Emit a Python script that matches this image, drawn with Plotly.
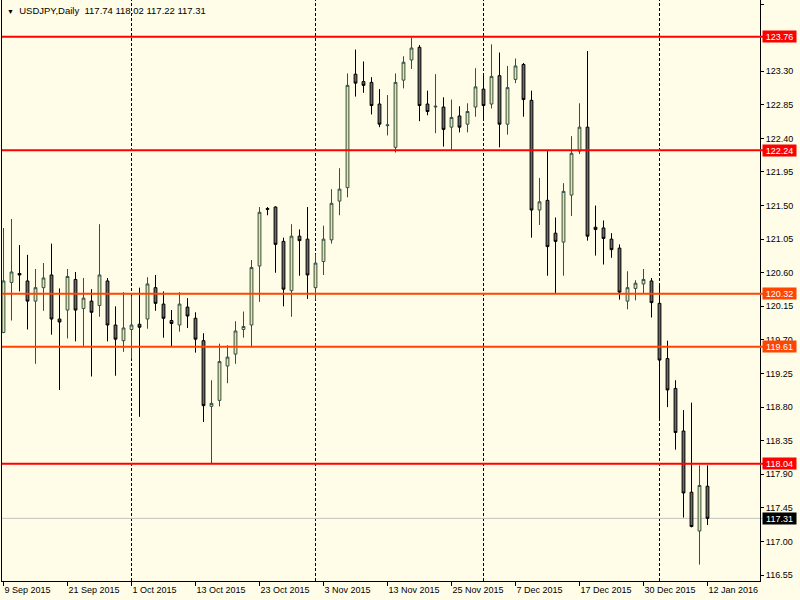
import plotly.graph_objects as go

# ---------------- data ----------------
symbol_title = "USDJPY,Daily"
last_ohlc = ["117.74", "118.02", "117.22", "117.31"]

bar_index = list(range(89))

opens = [119.80, 120.47, 120.59, 120.49, 120.22, 120.40, 120.57, 119.98, 120.10, 120.51,
         120.12, 120.22, 120.16, 120.49, 119.90, 119.69, 119.84, 119.91, 119.98, 120.40,
         120.18, 119.96, 119.90, 120.14, 119.99, 119.69, 118.81, 118.89, 119.35, 119.51,
         119.84, 119.90, 120.69, 121.46, 121.48, 121.02, 120.36, 121.09, 121.05, 120.40,
         120.75, 121.04, 121.56, 121.74, 123.26, 123.16, 123.15, 122.86, 122.57, 122.28,
         123.18, 123.45, 123.62, 122.86, 122.82, 122.82, 122.55, 122.70, 122.59, 122.82,
         123.06, 122.86, 123.24, 122.59, 123.19, 123.39, 122.91, 121.44, 121.57, 121.13,
         121.01, 121.64, 122.23, 122.55, 121.21, 121.20, 121.05, 120.93, 120.22, 120.39,
         120.45, 120.49, 120.19, 119.45, 119.05, 118.48, 117.66, 117.14, 117.74]

highs = [121.20, 121.32, 120.97, 120.84, 120.65, 120.73, 120.99, 120.39, 120.65, 120.61,
         120.53, 120.38, 121.25, 120.53, 120.15, 120.34, 120.29, 120.40, 120.54, 120.57,
         120.35, 120.10, 120.34, 120.26, 120.07, 119.79, 119.16, 119.65, 119.63, 119.95,
         120.08, 120.77, 121.48, 121.48, 121.49, 121.07, 121.25, 121.18, 121.48, 120.85,
         121.23, 121.72, 122.00, 123.27, 123.59, 123.43, 123.22, 123.06, 122.98, 123.27,
         123.50, 123.75, 123.65, 123.04, 123.26, 122.95, 122.92, 122.83, 122.87, 123.34,
         123.25, 123.66, 123.55, 123.37, 123.47, 123.41, 123.04, 121.87, 122.23, 121.34,
         121.80, 122.43, 122.87, 123.57, 121.50, 121.30, 121.13, 120.98, 120.62, 120.50,
         120.65, 120.53, 120.46, 119.69, 119.16, 118.76, 118.86, 118.02, 118.02]

lows = [119.79, 119.96, 120.35, 119.84, 119.38, 120.09, 119.77, 119.03, 119.72, 119.68,
        119.61, 119.21, 120.01, 119.68, 119.22, 119.54, 119.45, 118.67, 119.85, 120.09,
        119.73, 119.61, 119.81, 119.86, 119.53, 118.60, 118.05, 118.81, 119.12, 119.38,
        119.73, 119.60, 120.21, 121.37, 120.60, 120.15, 120.01, 120.56, 120.25, 120.24,
        120.57, 120.99, 121.37, 121.61, 122.96, 123.01, 122.72, 122.55, 122.44, 122.21,
        123.07, 123.33, 122.63, 122.71, 122.47, 122.29, 122.24, 122.48, 122.48, 122.69,
        122.64, 122.80, 122.28, 122.45, 123.14, 122.69, 121.07, 121.24, 120.56, 120.32,
        120.56, 121.36, 122.19, 121.03, 120.83, 120.71, 120.80, 120.24, 120.11, 120.23,
        120.32, 120.00, 118.65, 118.80, 118.23, 117.32, 117.19, 116.69, 117.22]

closes = [120.49, 120.61, 120.57, 120.22, 120.40, 120.53, 119.98, 119.94, 120.55, 120.10,
          120.26, 120.07, 120.57, 119.90, 119.71, 119.86, 119.90, 119.87, 120.45, 120.19,
          119.99, 119.92, 120.18, 120.02, 119.71, 118.82, 118.85, 119.41, 119.47, 119.82,
          119.88, 120.67, 121.41, 121.45, 120.98, 120.38, 121.09, 121.03, 120.57, 120.73,
          121.05, 121.53, 121.72, 123.11, 123.14, 123.11, 122.84, 122.59, 122.58, 123.15,
          123.42, 123.61, 122.84, 122.76, 122.83, 122.52, 122.68, 122.55, 122.76, 123.09,
          122.84, 123.23, 122.59, 123.08, 123.37, 122.92, 121.44, 121.55, 120.95, 121.02,
          121.69, 122.20, 122.55, 121.09, 121.18, 121.06, 120.91, 120.34, 120.40, 120.46,
          120.51, 120.20, 119.43, 119.03, 118.46, 117.65, 117.20, 117.75, 117.31]

date_tick_index = [0, 8, 16, 24, 32, 40, 48, 56, 64, 72, 80, 88]
date_tick_text = ["9 Sep 2015", "21 Sep 2015", "1 Oct 2015", "13 Oct 2015", "23 Oct 2015",
                  "3 Nov 2015", "13 Nov 2015", "25 Nov 2015", "7 Dec 2015", "17 Dec 2015",
                  "30 Dec 2015", "12 Jan 2016"]
month_start_index = [16, 39, 60, 82]

# 123.75 is hidden behind the 123.76 level label in the reference
price_ticks = [116.55, 117.00, 117.45, 117.90, 118.35, 118.80, 119.25, 119.70, 120.15,
               120.60, 121.05, 121.50, 121.95, 122.40, 122.85, 123.30, 124.20]

levels = [123.76, 122.24, 120.32, 119.61, 118.04]
level_colors = ["#FF0000", "#FF0000", "#FF4500", "#FF4500", "#FF0000"]
last_price = 117.31

# ---------------- style ----------------
BG = "#FFFDE8"
FONT = "Liberation Sans, Arial, sans-serif"

fig = go.Figure()
fig.add_trace(go.Candlestick(
    x=bar_index, open=opens, high=highs, low=lows, close=closes,
    increasing=dict(line=dict(color="#2F4F4F", width=1), fillcolor="#F0E68C"),
    decreasing=dict(line=dict(color="#000000", width=1), fillcolor="#696969"),
    whiskerwidth=0, hoverinfo="skip", showlegend=False,
))

shapes = []
for i in month_start_index:
    shapes.append(dict(type="line", xref="x", yref="paper", x0=i, x1=i, y0=0, y1=1,
                       line=dict(color="black", width=1, dash="3px,2px"), layer="below"))
shapes.append(dict(type="line", xref="paper", yref="y", x0=0, x1=1.006,
                   y0=last_price, y1=last_price,
                   line=dict(color="#C0C0C0", width=1), layer="below"))
for lv, col in zip(levels, level_colors):
    shapes.append(dict(type="line", xref="paper", yref="y", x0=0, x1=1.006, y0=lv, y1=lv,
                       line=dict(color=col, width=2), layer="above"))

annotations = []
for lv, col in zip(levels, level_colors):
    annotations.append(dict(xref="paper", yref="y", x=1, y=lv, xanchor="left", yanchor="middle",
                            xshift=2, text=f"{lv:.2f}", showarrow=False, bgcolor=col,
                            font=dict(color="white", size=9, family=FONT),
                            width=33, height=11, borderpad=0))
annotations.append(dict(xref="paper", yref="y", x=1, y=last_price, xanchor="left", yanchor="middle",
                        xshift=2, text=f"{last_price:.2f}", showarrow=False, bgcolor="black",
                        font=dict(color="white", size=9, family=FONT),
                        width=33, height=11, borderpad=0))
annotations.append(dict(xref="paper", yref="paper", x=0, y=1, xanchor="left", yanchor="top",
                        xshift=3, yshift=-3, showarrow=False, align="left",
                        text="<span style='font-size:7px'>▼</span>  " + symbol_title + "  " + " ".join(last_ohlc),
                        font=dict(color="black", size=9.5, family=FONT)))

fig.update_layout(
    width=800, height=600,
    margin=dict(l=2, r=40, t=0, b=19),
    paper_bgcolor=BG, plot_bgcolor=BG,
    showlegend=False,
    boxgap=0.5,
    font=dict(family=FONT, size=9, color="black"),
    shapes=shapes,
    annotations=annotations,
    xaxis=dict(
        range=[-0.1875, 94.5625], rangeslider=dict(visible=False),
        tickvals=date_tick_index, ticktext=date_tick_text,
        ticks="outside", ticklen=4, tickcolor="black", ticklabelposition="outside right",
        showgrid=False, zeroline=False, showline=True, linecolor="black", linewidth=1,
        tickfont=dict(size=9, family=FONT, color="black"), fixedrange=True,
    ),
    yaxis=dict(
        side="right", range=[116.4706, 124.2536],
        tickvals=price_ticks, tickformat=".2f",
        ticks="outside", ticklen=3, tickcolor="black",
        showgrid=False, zeroline=False, showline=True, mirror=True,
        linecolor="black", linewidth=1,
        tickfont=dict(size=9, family=FONT, color="black"), fixedrange=True,
    ),
)

fig.write_html("out.html", config={"displayModeBar": False},
               post_script="document.body.style.margin='0px';document.body.style.overflow='hidden';")
